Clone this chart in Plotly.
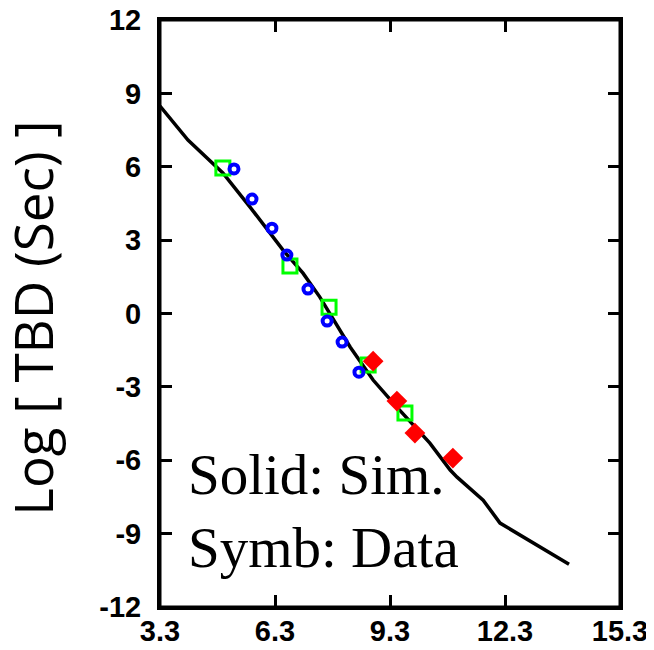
import plotly.graph_objects as go

# Simulation curve (solid line)
sim_x = [3.3, 4.03, 4.94, 5.65, 6.51, 7.03, 7.47, 7.99, 8.26, 8.86, 9.48, 10.34, 10.87, 11.05, 11.73, 12.17, 13.97]
sim_y = [8.48, 7.09, 5.75, 4.35, 2.59, 1.65, 0.67, -0.68, -1.37, -2.72, -3.83, -5.30, -6.40, -6.69, -7.63, -8.57, -10.25]

# Data symbols
sq_x = [4.94, 6.69, 7.71, 8.73, 9.69]
sq_y = [5.95, 1.94, 0.26, -2.11, -4.07]

circ_x = [5.23, 5.70, 6.22, 6.61, 7.16, 7.66, 8.05, 8.49]
circ_y = [5.91, 4.68, 3.49, 2.39, 1.00, -0.31, -1.17, -2.40]

dia_x = [8.86, 9.48, 9.95, 10.94]
dia_y = [-1.95, -3.58, -4.89, -5.91]

x_ticks = [3.3, 6.3, 9.3, 12.3, 15.3]
y_ticks = [-12, -9, -6, -3, 0, 3, 6, 9, 12]

fig = go.Figure()
fig.add_trace(go.Scatter(x=sim_x, y=sim_y, mode="lines",
                         line=dict(color="black", width=3.5), showlegend=False))
fig.add_trace(go.Scatter(x=sq_x, y=sq_y, mode="markers",
                         marker=dict(symbol="square-open", size=14, color="#00FF00",
                                     line=dict(color="#00FF00", width=3)), showlegend=False))
fig.add_trace(go.Scatter(x=dia_x, y=dia_y, mode="markers",
                         marker=dict(symbol="diamond", size=16, color="#FF0000",
                                     line=dict(width=0)), showlegend=False))
fig.add_trace(go.Scatter(x=circ_x, y=circ_y, mode="markers",
                         marker=dict(symbol="circle-open", size=9, color="#0000FF",
                                     line=dict(color="#0000FF", width=4)), showlegend=False))

tickfont = dict(family="Liberation Sans", size=29, color="black", weight="bold")

fig.update_xaxes(range=[3.3, 15.3], tickvals=x_ticks, ticktext=[str(v) for v in x_ticks],
                 ticks="inside", ticklen=12, tickwidth=3, tickcolor="black",
                 showline=True, linewidth=3, linecolor="black", mirror="ticks",
                 showgrid=False, zeroline=False, tickfont=tickfont, ticklabelstandoff=-4,
                 ticklabeloverflow="allow", automargin=False)
fig.update_yaxes(range=[-12, 12], tickvals=y_ticks, ticktext=[str(v) for v in y_ticks],
                 ticks="inside", ticklen=12, tickwidth=3, tickcolor="black",
                 showline=True, linewidth=3, linecolor="black", mirror="ticks",
                 showgrid=False, zeroline=False, tickfont=tickfont, ticklabelstandoff=10,
                 ticklabeloverflow="allow", automargin=False)

# plot frame
fig.add_shape(type="rect", xref="paper", yref="paper", x0=0, x1=1, y0=0, y1=1,
              line=dict(color="black", width=3), layer="above")

fig.add_annotation(text="Log [ TBD (Sec) ]", textangle=-90, xref="paper", yref="paper",
                   x=(33 - 160) / 460, y=0.491, xanchor="center", yanchor="middle",
                   showarrow=False, font=dict(family="Open Sans", size=53, color="black"))
fig.add_annotation(text="Solid: Sim.", xref="paper", yref="paper",
                   x=(186 - 160) / 460, y=1 - (474 - 20) / 587, xanchor="left", yanchor="middle",
                   showarrow=False, font=dict(family="Liberation Serif", size=57, color="black"))
fig.add_annotation(text="Symb: Data", xref="paper", yref="paper",
                   x=(186 - 160) / 460, y=1 - (547 - 20) / 587, xanchor="left", yanchor="middle",
                   showarrow=False, font=dict(family="Liberation Serif", size=57, color="black"))

# page body has an 8px margin, so the figure is offset by 8px in the window
fig.update_layout(width=638, height=642, margin=dict(l=152, r=26, t=12, b=43),
                  plot_bgcolor="white", paper_bgcolor="white")

fig.write_html("out.html")
